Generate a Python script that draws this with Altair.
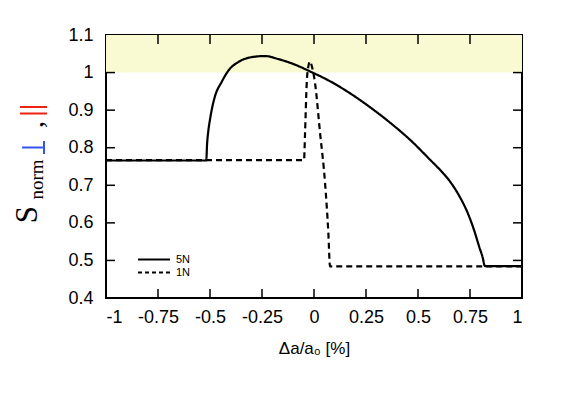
import altair as alt
import pandas as pd

# ---- data ----
x_5n = [-1.0, -0.518, -0.514, -0.508, -0.500, -0.492, -0.476, -0.444, -0.412, -0.364,
        -0.300, -0.236, -0.172, -0.091, -0.019, 0.077, 0.173, 0.269, 0.365, 0.462,
        0.558, 0.606, 0.654, 0.700, 0.740, 0.770, 0.795, 0.810, 0.822, 1.0]
y_5n = [0.766, 0.766, 0.810, 0.845, 0.875, 0.900, 0.937, 0.975, 1.005, 1.028,
        1.041, 1.044, 1.036, 1.021, 1.003, 0.977, 0.945, 0.908, 0.867, 0.821,
        0.768, 0.741, 0.710, 0.670, 0.625, 0.580, 0.535, 0.510, 0.485, 0.485]

x_1n = [-1.0, -0.048, -0.043, -0.035, -0.027, -0.019, -0.012, 0.005, 0.029, 0.053,
        0.069, 0.077, 1.0]
y_1n = [0.767, 0.767, 0.840, 0.972, 1.017, 1.030, 1.020, 0.972, 0.840, 0.707,
        0.573, 0.484, 0.484]

series_names = ["5N", "1N"]
x_ticks = [-1, -0.75, -0.5, -0.25, 0, 0.25, 0.5, 0.75, 1]
y_ticks = [0.4, 0.5, 0.6, 0.7, 0.8, 0.9, 1.0, 1.1]
band = {"x": -1.0, "x2": 1.0, "y": 1.0, "y2": 1.1}

W, H = 416, 263
FONT = "Liberation Sans"

rows = []
for i, (a, b) in enumerate(zip(x_5n, y_5n)):
    rows.append({"series": "5N", "x": a, "y": b, "o": i})
for i, (a, b) in enumerate(zip(x_1n, y_1n)):
    rows.append({"series": "1N", "x": a, "y": b, "o": i})
df = pd.DataFrame(rows)

xscale = alt.Scale(domain=[-1, 1], nice=False, zero=False)
yscale = alt.Scale(domain=[0.4, 1.1], nice=False, zero=False)

X_AX = alt.Axis(values=x_ticks, labelExpr="'' + datum.value", domain=False,
                ticks=False, grid=False, labelFont=FONT, labelFontSize=18,
                labelColor="black", labelPadding=10, labelOverlap=False,
                title="Δa/a₀ [%]", titleFont=FONT, titleFontSize=17,
                titleFontWeight="normal", titleColor="black", titlePadding=14)
Y_AX = alt.Axis(values=y_ticks, labelExpr="'' + datum.value", domain=False,
                ticks=False, grid=False, labelFont=FONT, labelFontSize=18,
                labelColor="black", labelPadding=13, labelOverlap=False,
                tickCount=8, title=None)

band_layer = alt.Chart(pd.DataFrame([band])).mark_rect(color="#fafad2").encode(
    x=alt.X("x:Q", scale=xscale, axis=X_AX), x2="x2:Q",
    y=alt.Y("y:Q", scale=yscale, axis=Y_AX), y2="y2:Q",
)

lines = alt.Chart(df).mark_line(color="black", strokeWidth=2.2,
                                interpolate="monotone").encode(
    x=alt.X("x:Q", scale=xscale, axis=X_AX),
    y=alt.Y("y:Q", scale=yscale, axis=Y_AX),
    strokeDash=alt.StrokeDash("series:N",
                              scale=alt.Scale(domain=series_names, range=[[1, 0], [6, 4]]),
                              legend=None),
    order="o:Q",
)

xt = pd.DataFrame({"v": x_ticks[1:-1]})
yt = pd.DataFrame({"v": y_ticks[1:-1]})
tick_style = dict(color="black", strokeWidth=1.5)
bottom_ticks = alt.Chart(xt).mark_rule(**tick_style).encode(
    x=alt.X("v:Q", scale=xscale, axis=X_AX), y=alt.value(H), y2=alt.value(H - 9))
top_ticks = alt.Chart(xt).mark_rule(**tick_style).encode(
    x=alt.X("v:Q", scale=xscale, axis=X_AX), y=alt.value(0), y2=alt.value(9))
left_ticks = alt.Chart(yt).mark_rule(**tick_style).encode(
    y=alt.Y("v:Q", scale=yscale, axis=Y_AX), x=alt.value(0), x2=alt.value(9))
right_ticks = alt.Chart(yt).mark_rule(**tick_style).encode(
    y=alt.Y("v:Q", scale=yscale, axis=Y_AX), x=alt.value(W), x2=alt.value(W - 9))

one = pd.DataFrame({"a": [0]})


def label(text, x, y, size, color="black", font="Liberation Serif", angle=270,
          align="center", baseline="alphabetic"):
    return alt.Chart(one).mark_text(text=text, angle=angle, align=align,
                                    baseline=baseline, font=font, fontSize=size,
                                    color=color).encode(x=alt.value(x), y=alt.value(y))


def seg(x1, x2, y1, y2, color, width=2.0, dash=None):
    kw = dict(color=color, strokeWidth=width)
    if dash:
        kw["strokeDash"] = dash
    return alt.Chart(one).mark_rule(**kw).encode(
        x=alt.value(x1), x2=alt.value(x2), y=alt.value(y1), y2=alt.value(y2))


# legend (inside, lower left)
legend_parts = [
    seg(32, 64, 224.5, 224.5, "black", 2.0),
    seg(32, 64, 237.5, 237.5, "black", 2.0, [4, 3]),
    label("5N", 70, 224.5, 11, font=FONT, angle=0, align="left", baseline="middle"),
    label("1N", 70, 237.5, 11, font=FONT, angle=0, align="left", baseline="middle"),
]

# y-axis title: S_norm ⊥, ∥
title_parts = [
    label("S", -69, 179.5, 31),
    label("norm", -63, 144.5, 19),
    seg(-84, -62, 112.5, 112.5, "#3355ee", 2.0),      # ⊥ stem
    seg(-62, -62, 106, 119, "#3355ee", 2.0),          # ⊥ base
    label(",", -63, 89.5, 28),
    seg(-86, -59, 72, 72, "#ee2211", 2.0),            # ∥
    seg(-86, -59, 78.5, 78.5, "#ee2211", 2.0),
]

chart = alt.layer(band_layer, lines, bottom_ticks, top_ticks, left_ticks, right_ticks,
                  *legend_parts, *title_parts).properties(
    width=W, height=H, autosize=alt.AutoSizeParams(type="none"),
    padding={"left": 98, "top": 27, "right": 35, "bottom": 60},
).configure_view(stroke="black", strokeWidth=2)

chart.save("out.html", embed_options={"renderer": "svg", "actions": False})
